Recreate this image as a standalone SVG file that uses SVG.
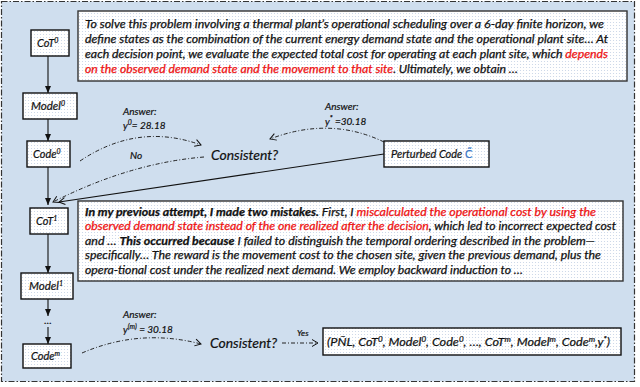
<svg xmlns="http://www.w3.org/2000/svg" width="640" height="387" viewBox="0 0 640 387">
<defs>
<pattern id="dots" width="3" height="3" patternUnits="userSpaceOnUse">
<rect width="3" height="3" fill="#ffffff"/>
<circle cx="1.5" cy="1.5" r="0.55" fill="#c6d3e6"/>
</pattern>
<marker id="solidHead" markerUnits="userSpaceOnUse" markerWidth="8" markerHeight="8" refX="7" refY="4" orient="auto">
<path d="M0,1 L7,4 L0,7 Z" fill="#111"/>
</marker>
<marker id="openHead" markerUnits="userSpaceOnUse" markerWidth="9" markerHeight="9" refX="7" refY="4.5" orient="auto">
<path d="M1,1 L7,4.5 L1,8" fill="none" stroke="#111" stroke-width="1"/>
</marker>
</defs>
<style>
.node{fill:url(#dots);stroke:#111;stroke-width:1.4}
.tbox{fill:url(#dots);stroke:#333;stroke-width:1.4}
.lbl{font-family:Lato,'Open Sans',sans-serif;font-style:italic;fill:#111;stroke:#111;stroke-width:0.2}
.body{font-family:Lato,'Open Sans',sans-serif;font-style:italic;font-size:11px;fill:#111;stroke:#111;stroke-width:0.25}
.red{fill:#ee1111;stroke:#ee1111}
.b{font-weight:bold}
.solid{fill:none;stroke:#111;stroke-width:1.1}
.dd{fill:none;stroke:#222;stroke-width:1;stroke-dasharray:4 2 1 2}
</style>
<rect x="1.5" y="1.5" width="633" height="380" fill="#cfdeee" stroke="#333" stroke-width="1.2" stroke-dasharray="6 2 1.5 2"/>

<g id="text-top">
<rect class="tbox" x="78" y="11" width="549" height="70"/>
<text class="body" x="85" y="27.5" textLength="519" lengthAdjust="spacingAndGlyphs">To solve this problem involving a thermal plant’s operational scheduling over a 6-day finite horizon, we</text>
<text class="body" x="85" y="42.5" textLength="523" lengthAdjust="spacingAndGlyphs">define states as the combination of the current energy demand state and the operational plant site… At</text>
<text class="body" x="85" y="57.5" textLength="523" lengthAdjust="spacingAndGlyphs">each decision point, we evaluate the expected total cost for operating at each plant site, which <tspan class="red">depends</tspan></text>
<text class="body" x="85" y="72.5" textLength="433" lengthAdjust="spacingAndGlyphs"><tspan class="red">on the observed demand state and the movement to that site</tspan>. Ultimately, we obtain …</text>
</g>

<g id="text-cot1">
<rect class="tbox" x="78" y="201" width="545" height="80"/>
<text class="body" x="85" y="215.5" textLength="511" lengthAdjust="spacingAndGlyphs"><tspan class="b">In my previous attempt, I made two mistakes.</tspan> First, I <tspan class="red">miscalculated the operational cost by using the</tspan></text>
<text class="body" x="85" y="230" textLength="531" lengthAdjust="spacingAndGlyphs"><tspan class="red">observed demand state instead of the one realized after the decision</tspan>, which led to incorrect expected cost</text>
<text class="body" x="85" y="244.5" textLength="510" lengthAdjust="spacingAndGlyphs">and … <tspan class="b">This occurred because</tspan> I failed to distinguish the temporal ordering described in the problem—</text>
<text class="body" x="85" y="259" textLength="516" lengthAdjust="spacingAndGlyphs">specifically… The reward is the movement cost to the chosen site, given the previous demand, plus the</text>
<text class="body" x="85" y="273.5" textLength="438" lengthAdjust="spacingAndGlyphs">opera-tional cost under the realized next demand. We employ backward induction to …</text>
</g>

<g id="connectors">
<line class="solid" x1="48" y1="56" x2="48" y2="93" marker-end="url(#solidHead)"/>
<line class="solid" x1="48" y1="119" x2="48" y2="141" marker-end="url(#solidHead)"/>
<line class="solid" x1="48" y1="167" x2="48" y2="205" marker-end="url(#solidHead)"/>
<line class="solid" x1="48" y1="234" x2="48" y2="273" marker-end="url(#solidHead)"/>
<line class="solid" x1="48" y1="299" x2="48" y2="316" marker-end="url(#solidHead)"/>
<line class="solid" x1="48" y1="327" x2="48" y2="344" marker-end="url(#solidHead)"/>
<path class="dd" d="M80,161 Q138,122 201,145" marker-end="url(#openHead)"/>
<path class="dd" d="M384,142 Q330,116 270,139" marker-end="url(#openHead)"/>
<path class="dd" d="M204,157 Q130,163 53,202" marker-end="url(#openHead)"/>
<line class="solid" x1="384" y1="154" x2="59" y2="202" marker-end="url(#openHead)"/>
<path class="dd" d="M82,353 Q140,328 201,344" marker-end="url(#openHead)"/>
<line class="dd" x1="282" y1="343" x2="318" y2="343" marker-end="url(#openHead)"/>
<text class="lbl" x="123" y="115" font-size="10">Answer:</text>
<text class="lbl" x="123" y="128.5" font-size="10">y<tspan font-size="7" dy="-4">0</tspan><tspan dy="4">= 28.18</tspan></text>
<text class="lbl" x="325" y="110" font-size="10">Answer:</text>
<text class="lbl" x="325" y="125" font-size="10">y<tspan font-size="7" dy="-4">*</tspan><tspan dy="4"> =30.18</tspan></text>
<text class="lbl" x="130" y="159" font-size="10">No</text>
<text class="lbl" x="123" y="318" font-size="10">Answer:</text>
<text class="lbl" x="123" y="332.5" font-size="10">y<tspan font-size="7" dy="-4">(m)</tspan><tspan dy="4"> = 30.18</tspan></text>
<text class="lbl" x="297" y="336" font-size="8.5" font-style="normal">Yes</text>
</g>

<g id="cot0">
<rect class="node" x="31" y="30" width="38" height="26"/>
<text class="lbl" x="37" y="47" font-size="11">CoT<tspan font-size="7" dy="-4">0</tspan></text>
</g>
<g id="model0">
<rect class="node" x="23" y="93" width="54" height="26"/>
<text class="lbl" x="31" y="110" font-size="11.5">Model<tspan font-size="7" dy="-4">0</tspan></text>
</g>
<g id="code0">
<rect class="node" x="27" y="141" width="43" height="26"/>
<text class="lbl" x="33" y="158" font-size="11">Code<tspan font-size="7" dy="-4">0</tspan></text>
</g>
<g id="consistent1">
<text class="lbl" x="211" y="160" font-size="13.5" textLength="67" lengthAdjust="spacingAndGlyphs">Consistent?</text>
</g>
<g id="perturbed">
<rect class="node" x="384" y="141" width="105" height="26"/>
<text class="lbl" x="391" y="158" font-size="11">Perturbed Code <tspan fill="#3a78c8" stroke="#3a78c8" font-style="normal">C̃</tspan></text>
</g>
<g id="cot1">
<rect class="node" x="30" y="208" width="38" height="26"/>
<text class="lbl" x="36" y="225" font-size="11">CoT<tspan font-size="7" dy="-4">1</tspan></text>
</g>
<g id="model1">
<rect class="node" x="21" y="273" width="52" height="26"/>
<text class="lbl" x="29" y="290" font-size="11.5">Model<tspan font-size="7" dy="-4">1</tspan></text>
</g>
<g id="dots-node">
<text class="lbl" x="48" y="324" font-size="10" text-anchor="middle" font-style="normal">…</text>
</g>
<g id="codem">
<rect class="node" x="23" y="344" width="48" height="24"/>
<text class="lbl" x="31" y="360" font-size="11">Code<tspan font-size="7" dy="-4">m</tspan></text>
</g>
<g id="consistent2">
<text class="lbl" x="210" y="348" font-size="13.5" textLength="67" lengthAdjust="spacingAndGlyphs">Consistent?</text>
</g>
<g id="result">
<rect class="node" x="323" y="328" width="298" height="27"/>
<text class="lbl" x="327" y="346" font-size="11" textLength="283" lengthAdjust="spacingAndGlyphs">(PÑL, CoT<tspan font-size="7" dy="-4">0</tspan><tspan dy="4">, Model</tspan><tspan font-size="7" dy="-4">0</tspan><tspan dy="4">, Code</tspan><tspan font-size="7" dy="-4">0</tspan><tspan dy="4">,  …, CoT</tspan><tspan font-size="7" dy="-4">m</tspan><tspan dy="4">, Model</tspan><tspan font-size="7" dy="-4">m</tspan><tspan dy="4">, Code</tspan><tspan font-size="7" dy="-4">m</tspan><tspan dy="4">,y</tspan><tspan font-size="7" dy="-4">*</tspan><tspan dy="4">)</tspan></text>
</g>
</svg>
